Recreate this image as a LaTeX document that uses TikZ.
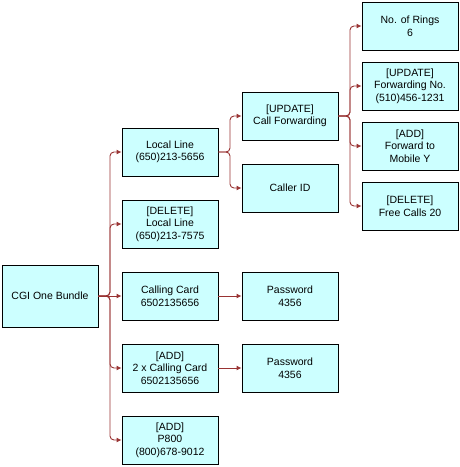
\documentclass[tikz,border=0pt]{standalone}
\usepackage{fontspec}
\setmainfont{Liberation Sans}
\usepackage{tikz}
\usetikzlibrary{arrows.meta}
\definecolor{boxfill}{HTML}{CCFFFF}
\definecolor{linkred}{HTML}{993333}

\begin{document}
\begin{tikzpicture}[x=1pt,y=-1pt,
  box/.style={draw=black,line width=0.9pt,fill=boxfill,minimum width=96pt,minimum height=48pt,
    align=center,inner sep=1pt,font=\fontsize{10.5}{12.5}\selectfont},
  link/.style={draw=linkred,line width=0.9pt,rounded corners=4pt,-{Latex[length=5pt,width=5pt]}}]
\useasboundingbox (0,0) rectangle (460,467);
% root
\node[box,minimum height=62pt] (bundle) at (50,296) {CGI One Bundle};
% second column
\node[box] (local) at (170,152) {Local Line\\(650)213-5656};
\node[box] (dellocal) at (170,224) {[DELETE]\\Local Line\\(650)213-7575};
\node[box] (card) at (170,296) {Calling Card\\6502135656};
\node[box] (addcard) at (170,368) {[ADD]\\2 x Calling Card\\6502135656};
\node[box] (pe) at (170,440) {[ADD]\\P800\\(800)678-9012};
% third column
\node[box] (callfwd) at (290,116) {[UPDATE]\\Call Forwarding};
\node[box] (callerid) at (290,188) {Caller ID};
\node[box] (pwd) at (290,296) {Password\\4356};
\node[box] (addpwd) at (290,368) {Password\\4356};
% fourth column
\node[box] (rings) at (410,26) {No. of Rings\\6};
\node[box] (fwdno) at (410,86) {[UPDATE]\\Forwarding No.\\(510)456-1231};
\node[box] (mobile) at (410,146) {[ADD]\\Forward to\\Mobile Y};
\node[box] (free) at (410,206) {[DELETE]\\Free Calls 20};
% links from the root
\draw[link] (bundle.east) -- (110,296) |- (local.west);
\draw[link] (bundle.east) -- (110,296) |- (dellocal.west);
\draw[link] (bundle.east) -- (card.west);
\draw[link] (bundle.east) -- (110,296) |- (addcard.west);
\draw[link] (bundle.east) -- (110,296) |- (pe.west);
% links from local line
\draw[link] (local.east) -- (230,152) |- (callfwd.west);
\draw[link] (local.east) -- (230,152) |- (callerid.west);
% links from call forwarding
\draw[link] (callfwd.east) -- (350,116) |- (rings.west);
\draw[link] (callfwd.east) -- (350,116) |- (fwdno.west);
\draw[link] (callfwd.east) -- (350,116) |- (mobile.west);
\draw[link] (callfwd.east) -- (350,116) |- (free.west);
% calling cards
\draw[link] (card.east) -- (pwd.west);
\draw[link] (addcard.east) -- (addpwd.west);
\end{tikzpicture}
\end{document}
